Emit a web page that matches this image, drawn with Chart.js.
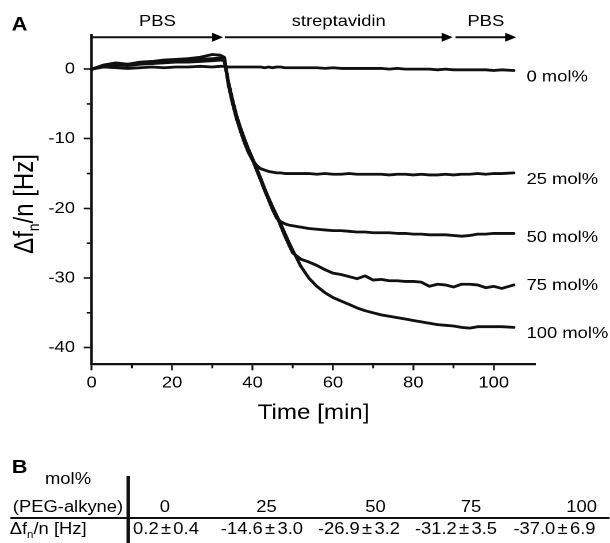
<!DOCTYPE html>
<html lang="en">
<head>
<meta charset="UTF-8">
<title>Streptavidin binding vs PEG-alkyne content</title>
<script src="https://cdn.jsdelivr.net/npm/chart.js"></script>
<style>
  html, body { margin: 0; padding: 0; background: #fff; overflow: hidden; }
  /* the original figure is a bit stretched sideways: draw narrow, then widen */
  #page { position: absolute; left: 0; top: 0; height: 543px; transform-origin: 0 0;
          font-family: "Liberation Sans", Arial, sans-serif; color: #000; }
  #chart { position: absolute; left: 0; top: 0; }
  .cell { position: absolute; font-size: 16px; line-height: 1; white-space: nowrap; }
  .mid { transform: translate(-50%, -50%); }
  .left { transform: translateY(-50%); }
  .cell sub { font-size: 10px; vertical-align: -4px; line-height: 0; }
  .pm { margin: 0 2px; }
  .rule { position: absolute; background: #111; }
  #letterB { position: absolute; top: 457px; font-size: 19px; font-weight: bold; line-height: 1; }
</style>
</head>
<body>
<div id="page">
  <canvas id="chart"></canvas>
  <div id="letterB">B</div>
  <div id="table"></div>
</div>
<script>
const SX = 1.15;               // horizontal stretch of the page
const ink = '#111';
const fontFamily = '"Liberation Sans", Arial, sans-serif';

// time in minutes, shared by all traces
const time = [0, 3, 6, 9, 12, 15, 18, 21, 24, 27, 30, 32, 33, 34, 35, 36, 37, 38, 39, 40,
  41, 42, 43, 44, 45, 46, 47, 48, 49, 50, 52, 54, 56, 58, 60, 62, 64, 66, 68, 70,
  72, 74, 76, 78, 80, 82, 84, 86, 88, 90, 92, 94, 96, 98, 100, 102, 105];

// delta f_n / n [Hz]
const mol0 = [0, 0.3, 0.2, 0.1, 0.2, 0.3, 0.2, 0.3, 0.3, 0.4, 0.3, 0.4, 0.4, 0.3, 0.3, 0.3, 0.3, 0.3, 0.3, 0.3,
  0.3, 0.3, 0.2, 0.3, 0.2, 0.3, 0.3, 0.2, 0.2, 0.2, 0.2, 0.2, 0.2, 0.1, 0.2, 0.1, 0.1, 0.1, 0.1, 0.1,
  0.1, 0.0, 0.1, 0.0, 0.0, 0.0, 0.0, -0.1, 0.0, -0.1, -0.1, -0.1, -0.1, -0.1, -0.2, -0.1, -0.2];
const mol25 = [0, 0.5, 0.7, 0.6, 0.8, 0.9, 1.0, 1.1, 1.2, 1.2, 1.3, 1.4, 1.3, -2.3, -4.9, -7.1, -8.9, -10.6, -12.0, -13.1,
  -13.8, -14.3, -14.5, -14.7, -14.8, -14.9, -14.9, -15.0, -15.0, -15.0, -15.0, -15.0, -15.1, -15.0, -15.1, -15.1, -15.0, -15.1, -15.1, -15.1,
  -15.1, -15.2, -15.1, -15.1, -15.2, -15.1, -15.2, -15.2, -15.1, -15.2, -15.1, -15.1, -15.0, -15.1, -15.0, -15.0, -14.9];
const mol50 = [0, 0.4, 0.6, 0.5, 0.7, 0.8, 0.9, 1.0, 1.0, 1.1, 1.2, 1.3, 1.2, -2.0, -4.5, -6.8, -8.6, -10.2, -11.7, -13.0,
  -14.4, -15.9, -17.4, -18.8, -20.2, -21.4, -21.9, -22.2, -22.4, -22.5, -22.7, -22.9, -23.0, -23.1, -23.2, -23.2, -23.3, -23.4, -23.4, -23.5,
  -23.5, -23.5, -23.6, -23.6, -23.7, -23.7, -23.8, -23.8, -23.8, -23.9, -24.0, -23.9, -23.7, -23.7, -23.6, -23.6, -23.6];
const mol75 = [0, 0.5, 0.8, 0.7, 0.9, 1.0, 1.1, 1.2, 1.3, 1.4, 1.5, 1.6, 1.5, -1.8, -4.3, -6.6, -8.4, -10.0, -11.5, -12.8,
  -14.2, -15.6, -17.1, -18.5, -19.8, -21.1, -22.5, -23.9, -25.2, -26.4, -27.3, -27.7, -28.2, -28.8, -29.3, -29.5, -29.8, -30.1, -29.7, -30.3,
  -30.2, -30.4, -30.4, -30.5, -30.5, -30.6, -31.2, -30.9, -31.0, -31.3, -30.9, -30.9, -31.0, -31.4, -31.2, -31.5, -31.0];
const mol100 = [0, 0.6, 0.9, 0.7, 1.0, 1.1, 1.3, 1.4, 1.5, 1.7, 2.1, 2.0, 1.7, -1.9, -4.4, -6.7, -8.5, -10.1, -11.6, -13.0,
  -14.5, -15.9, -17.3, -18.6, -19.8, -21.0, -22.2, -23.5, -24.8, -26.0, -28.3, -30.0, -31.2, -32.1, -32.8, -33.3, -33.8, -34.3, -34.7, -35.0,
  -35.3, -35.5, -35.7, -35.9, -36.1, -36.3, -36.5, -36.7, -36.8, -36.9, -37.1, -37.2, -37.0, -37.0, -37.0, -37.0, -37.1];

const seriesLabels = ['0 mol%', '25 mol%', '50 mol%', '75 mol%', '100 mol%'];

const xMajor = [0, 20, 40, 60, 80, 100];
const xMinor = [10, 30, 50, 70, 90];
const yMajor = [-40, -30, -20, -10, 0];
const yMinor = [-35, -25, -15, -5];

// buffer phases along the top
const phaseLabels = ['PBS', 'streptavidin', 'PBS'];
const phaseStart = [0, 33.1, 90.5];
const phaseEnd = [32.7, 89.8, 105.6];

// panel B
const tableMol = [0, 25, 50, 75, 100];
const tableMean = [0.2, -14.6, -26.9, -31.2, -37.0];
const tableSd = [0.4, 3.0, 3.2, 3.5, 6.9];

// layout, in pixels of the final picture
const labelDy = [6.5, 6.5, 4, 0.5, 6];
const headX = [165, 266.5, 375.5, 471, 581.7];
const valX = [166, 262, 359, 456, 554.5];

const nx = v => v / SX;        // final x pixels -> narrow frame
const allSeries = [mol0, mol25, mol50, mol75, mol100];

const page = document.getElementById('page');
page.style.width = nx(610) + 'px';
page.style.transform = 'scaleX(' + SX + ')';
const canvas = document.getElementById('chart');
canvas.width = nx(610);
canvas.height = 440;

const overlay = {
  id: 'overlay',
  afterDraw(chart) {
    const { ctx, chartArea: area, scales: { x, y } } = chart;
    ctx.save();
    ctx.strokeStyle = ink;
    ctx.fillStyle = '#000';

    // minor ticks
    ctx.lineWidth = 1.6;
    xMinor.forEach(v => {
      const px = x.getPixelForValue(v);
      ctx.beginPath(); ctx.moveTo(px, area.bottom); ctx.lineTo(px, area.bottom + 4); ctx.stroke();
    });
    yMinor.forEach(v => {
      const py = y.getPixelForValue(v);
      ctx.beginPath(); ctx.moveTo(area.left, py); ctx.lineTo(area.left - nx(5), py); ctx.stroke();
    });

    // phase arrows
    const arrowY = 37.3;
    ctx.lineWidth = 2;
    ctx.font = '16px ' + fontFamily;
    ctx.textAlign = 'center';
    ctx.textBaseline = 'alphabetic';
    phaseLabels.forEach((txt, i) => {
      const x0 = x.getPixelForValue(phaseStart[i]);
      const x1 = x.getPixelForValue(phaseEnd[i]);
      const head = nx(11);
      ctx.beginPath(); ctx.moveTo(x0, arrowY); ctx.lineTo(x1 - head * 0.7, arrowY); ctx.stroke();
      ctx.beginPath();
      ctx.moveTo(x1, arrowY); ctx.lineTo(x1 - head, arrowY - 4.5); ctx.lineTo(x1 - head, arrowY + 4.5);
      ctx.closePath(); ctx.fill();
      ctx.fillText(txt, (x0 + x1) / 2, 25.8);
    });

    // end-of-trace labels
    ctx.font = '16px ' + fontFamily;
    ctx.textAlign = 'left';
    ctx.textBaseline = 'middle';
    allSeries.forEach((s, i) => {
      const last = s.length - 1;
      const px = x.getPixelForValue(time[last]) + nx(12.7);
      const py = y.getPixelForValue(s[last]) + labelDy[i];
      ctx.fillText(seriesLabels[i], px, py);
    });

    // x title
    ctx.font = '21px ' + fontFamily;
    ctx.textAlign = 'center';
    ctx.textBaseline = 'alphabetic';
    ctx.fillText('Time [min]', (area.left + area.right) / 2, 419);

    // y title with subscript
    const big = '24px ' + fontFamily;
    const small = '14px ' + fontFamily;
    ctx.font = big; const w1 = ctx.measureText('\u0394f').width; const w3 = ctx.measureText('/n [Hz]').width;
    ctx.font = small; const w2 = ctx.measureText('n').width;
    const total = w1 + w2 + w3;
    ctx.translate(nx(33), 204);
    ctx.rotate(-Math.PI / 2);
    ctx.textAlign = 'left';
    let u = -total / 2;
    ctx.font = big; ctx.fillText('\u0394f', u, 0); u += w1;
    ctx.font = small; ctx.fillText('n', u, 5.5); u += w2;
    ctx.font = big; ctx.fillText('/n [Hz]', u, 0);
    ctx.restore();

    // panel letter
    ctx.save();
    ctx.fillStyle = '#000';
    ctx.font = 'bold 19px ' + fontFamily;
    ctx.textAlign = 'left';
    ctx.textBaseline = 'alphabetic';
    ctx.fillText('A', nx(11.6), 30.7);
    ctx.restore();
  }
};

new Chart(canvas, {
  type: 'line',
  data: {
    datasets: allSeries.map((s, i) => ({
      label: seriesLabels[i],
      data: time.map((t, k) => ({ x: t, y: s[k] })),
      borderColor: ink,
      borderWidth: 2.8,
      borderJoinStyle: 'round',
      borderCapStyle: 'round',
      pointRadius: 0,
      tension: 0,
      fill: false
    }))
  },
  options: {
    responsive: false,
    animation: false,
    devicePixelRatio: 2,
    layout: { padding: { top: 35, right: nx(610 - 536), left: 0, bottom: 0 } },
    plugins: { legend: { display: false }, tooltip: { enabled: false } },
    scales: {
      x: {
        type: 'linear',
        min: 0,
        max: 110.4,
        afterBuildTicks: a => { a.ticks = xMajor.map(v => ({ value: v })); },
        afterFit: a => { a.height = 440 - 364.3; },
        grid: { drawOnChartArea: false, drawTicks: true, tickLength: 6, tickWidth: 1.6, tickColor: ink },
        border: { display: true, color: ink, width: 2.2 },
        ticks: { padding: 3, color: '#000', font: { family: fontFamily, size: 16 }, maxRotation: 0, autoSkip: false }
      },
      y: {
        type: 'linear',
        min: -42.4,
        max: 4.9,
        afterBuildTicks: a => { a.ticks = yMajor.map(v => ({ value: v })); },
        afterFit: a => { a.width = nx(91.7); },
        grid: { drawOnChartArea: false, drawTicks: true, tickLength: nx(8), tickWidth: 1.6, tickColor: ink },
        border: { display: true, color: ink, width: 2.2 },
        ticks: { padding: nx(8.7), color: '#000', font: { family: fontFamily, size: 16 } }
      }
    }
  },
  plugins: [overlay]
});

// panel B table
document.getElementById('letterB').style.left = nx(11.7) + 'px';
const table = document.getElementById('table');
function addCell(html, x, y, cls) {
  const d = document.createElement('div');
  d.className = 'cell ' + cls;
  d.style.left = nx(x) + 'px';
  d.style.top = y + 'px';
  d.innerHTML = html;
  table.appendChild(d);
}
function addRule(x, y, w, h) {
  const d = document.createElement('div');
  d.className = 'rule';
  Object.assign(d.style, { left: nx(x) + 'px', top: y + 'px', width: nx(w) + 'px', height: h + 'px' });
  table.appendChild(d);
}
addCell('mol%', 68, 479, 'mid');
addCell('(PEG-alkyne)', 68, 507, 'mid');
addCell('\u0394f<sub>n</sub>/n [Hz]', 9.7, 528.8, 'left');
tableMol.forEach((m, i) => addCell(String(m), headX[i], 507, 'mid'));
tableMean.forEach((m, i) =>
  addCell(m.toFixed(1) + '<span class="pm">\u00b1</span>' + tableSd[i].toFixed(1), valX[i], 528.8, 'mid'));
addRule(10, 516.7, 600, 2.2);
addRule(126.5, 476, 3, 67);
</script>
</body>
</html>
